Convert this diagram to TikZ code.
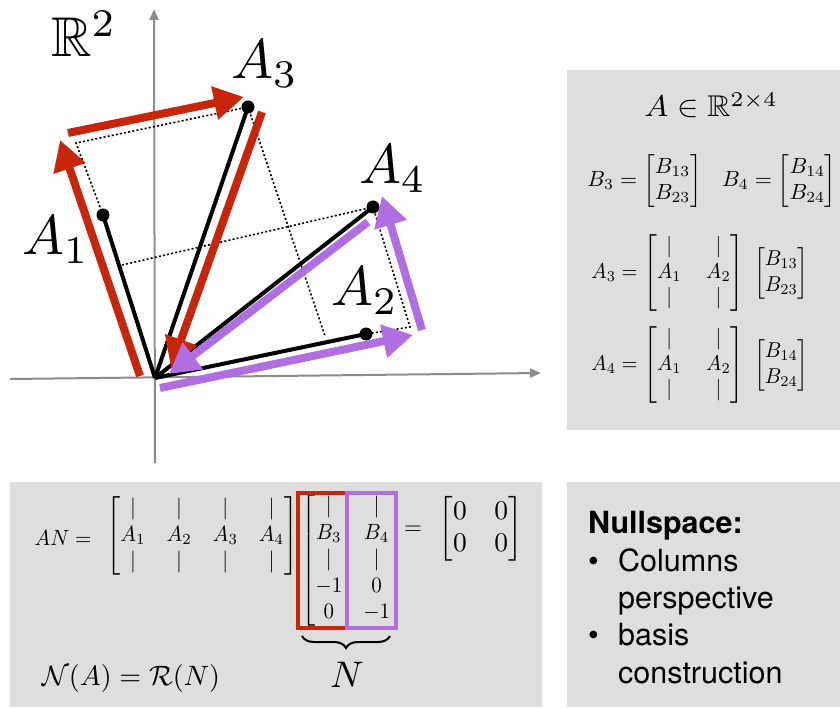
\documentclass[tikz,border=0pt]{standalone}
\usepackage{amsmath,amssymb}
\usepackage[no-math]{fontspec}
\newfontfamily\heros{TeX Gyre Heros}
\usetikzlibrary{arrows.meta,decorations.pathreplacing}
\definecolor{boxgray}{RGB}{221,222,221}
\definecolor{axgray}{RGB}{140,140,140}
\definecolor{vred}{RGB}{200,38,10}
\definecolor{vpurple}{RGB}{176,110,224}
\begin{document}
\begin{tikzpicture}[x=1pt,y=-1pt,
  panel/.style={fill=boxgray,draw=none},
  axis/.style={axgray,line width=2pt,-{Triangle[length=11pt,width=9pt]}},
  vec/.style={black,line width=4pt},
  guide/.style={black,line width=1.6pt,dash pattern=on 2pt off 2.2pt},
  redarr/.style={vred,line width=8pt,-{Triangle[length=30pt,width=32pt]}},
  purarr/.style={vpurple,line width=8pt,-{Triangle[length=30pt,width=32pt]}},
  tipdot/.style={circle,fill=black,inner sep=0pt,minimum size=13pt},
  plbl/.style={inner sep=0pt,anchor=base west,scale=5.6},
  eqr/.style={inner sep=0pt,xscale=2.05,yscale=2.15},
  eqb/.style={inner sep=0pt,xscale=2.1,yscale=2.2},
  sans/.style={inner sep=0pt,anchor=base west,font=\heros\fontsize{30.5}{36}\selectfont},
  colbox/.style={line width=4pt,inner sep=0pt,minimum width=49pt,minimum height=135pt}
]
\useasboundingbox (0,0) rectangle (840,708);
% panels
\fill[panel] (567,70) rectangle (840,430);
\fill[panel] (10,482) rectangle (542,707);
\fill[panel] (567,482) rectangle (840,707);

% axes
\coordinate (o) at (155,378);
\coordinate (xl) at (10,379);
\coordinate (xr) at (541,373);
\coordinate (yb) at (155,463);
\coordinate (yt) at (154,9);
\draw[axis] (xl) -- (xr);
\draw[axis] (yb) -- (yt);

% vector end points
\node[tipdot] (a1) at (103,215) {};
\node[tipdot] (a3) at (248,107) {};
\node[tipdot] (a4) at (373,207) {};
\node[tipdot] (a2) at (366,334) {};

% guide corners
\coordinate (c3) at (76,143);
\coordinate (d3) at (325,336);
\coordinate (c4) at (122,265);
\coordinate (d4) at (410,327);
\draw[guide] (a1.center) -- (c3) -- (a3.center) -- (d3);
\draw[guide] (c4) -- (a4.center) -- (d4) -- (a2.center);

% black vectors
\draw[vec] (o) -- (a1.center);
\draw[vec] (o) -- (a3.center);
\draw[vec] (o) -- (a4.center);
\draw[vec] (o) -- (a2.center);

% red arrows
\coordinate (r1s) at (140,376);
\coordinate (r1e) at (60,140);
\coordinate (r2s) at (68,133);
\coordinate (r2e) at (244,97);
\coordinate (r3s) at (262,112);
\coordinate (r3e) at (171,368);
\draw[redarr] (r1s) -- (r1e);
\draw[redarr] (r2s) -- (r2e);
\draw[redarr] (r3s) -- (r3e);
% purple arrows
\coordinate (p1s) at (160,388);
\coordinate (p1e) at (413,335);
\coordinate (p2s) at (422,330);
\coordinate (p2e) at (382,196);
\coordinate (p3s) at (368,222);
\coordinate (p3e) at (169,374);
\draw[purarr] (p1s) -- (p1e);
\draw[purarr] (p2s) -- (p2e);
\draw[purarr] (p3s) -- (p3e);

% plot labels
\node[plbl] (lR) at (50,57) {$\mathbb{R}^2$};
\node[plbl] (l3) at (230,79) {$A_3$};
\node[plbl] (l4) at (358,184) {$A_4$};
\node[plbl] (l1) at (21,255) {$A_1$};
\node[plbl] (l2) at (330,306) {$A_2$};

% right panel
\node[inner sep=0pt,xscale=3.2,yscale=3.0,anchor=base] (tA) at (711,117) {$A\in\mathbb{R}^{2\times 4}$};
\node[inner sep=0pt,scale=2.2] (eB) at (712,181) {$B_3=\begin{bmatrix}B_{13}\\B_{23}\end{bmatrix}\hspace{0.75em}B_4=\begin{bmatrix}B_{14}\\B_{24}\end{bmatrix}$};
\node[eqr] (eA3) at (700,273) {$\setlength\arraycolsep{6pt}A_3=\begin{bmatrix}|&|\\A_1&A_2\\|&|\end{bmatrix}\hspace{3pt}\begin{bmatrix}B_{13}\\B_{23}\end{bmatrix}$};
\node[eqr] (eA4) at (700,365) {$\setlength\arraycolsep{6pt}A_4=\begin{bmatrix}|&|\\A_1&A_2\\|&|\end{bmatrix}\hspace{3pt}\begin{bmatrix}B_{14}\\B_{24}\end{bmatrix}$};

% bottom-left panel
\node[eqb,anchor=east] (eAN) at (92,538) {$AN=$};
\node[eqb,anchor=north west] (mA) at (106,496) {$\begin{bmatrix}|&|&|&|\\A_1&A_2&A_3&A_4\\|&|&|&|\end{bmatrix}$};
\node[eqb,anchor=north west] (mN) at (301,494) {$\left[\begin{matrix}|&|\\B_3&B_4\\|&|\\-1&0\\0&-1\end{matrix}\right.$};
\node[inner sep=0pt,scale=2.3] (eq2) at (413,530) {$=$};
\node[inner sep=0pt,xscale=2.75,yscale=2.7,anchor=north west] (mZ) at (438,496) {$\begin{bmatrix}0&0\\0&0\end{bmatrix}$};
\node[colbox,draw=vred] (bred) at (322.5,560.5) {};
\node[colbox,draw=vpurple] (bpur) at (371.5,560.5) {};
\draw[line width=2pt,decorate,decoration={brace,mirror,amplitude=12pt}] (302,636) -- (390,636);
\node[inner sep=0pt,scale=3.7] (lN) at (347,675) {$N$};
\node[inner sep=0pt,scale=2.8] (eNR) at (131,678) {$\mathcal{N}(A)=\mathcal{R}(N)$};

% bottom-right panel
\node[sans,font=\heros\bfseries\fontsize{30.5}{36}\selectfont] (tN) at (588,533) {Nullspace:};
\node[sans] (b1) at (588,571) {•};
\node[sans] (t1) at (618,571) {Columns};
\node[sans] (t2) at (618,608) {perspective};
\node[sans] (b2) at (588,645) {•};
\node[sans] (t3) at (618,645) {basis};
\node[sans] (t4) at (618,683) {construction};
\end{tikzpicture}
\end{document}
